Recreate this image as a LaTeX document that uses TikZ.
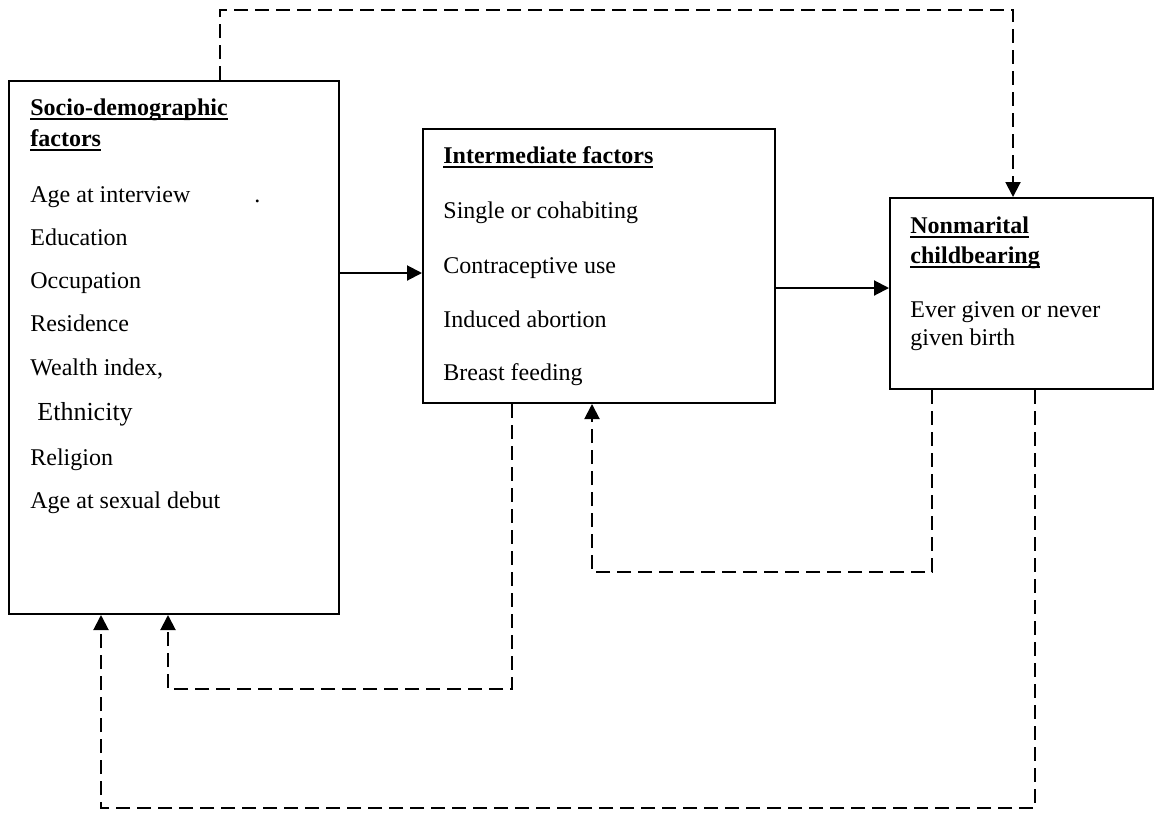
\documentclass[tikz,border=0pt]{standalone}
\usepackage{fontspec}
\setmainfont{Liberation Serif}
\usetikzlibrary{arrows.meta}
\newcommand{\ulhead}[1]{\setbox0\hbox{\bfseries #1}\rlap{\rule[-2.6pt]{\wd0}{1.1pt}}\box0}

\begin{document}
\begin{tikzpicture}[
  x=0.5pt, y=-0.5pt,
  box/.style={rectangle, draw, line width=1pt, inner sep=0pt, anchor=north west},
  item/.style={anchor=base west, inner sep=0pt, font=\fontsize{12pt}{14pt}\selectfont},
  arrow/.style={-{Triangle[length=7.5pt,width=7.5pt]}, line width=1pt},
  dasharrow/.style={arrow, dash pattern=on 7pt off 3.5pt},
]
  \useasboundingbox (0,0) rectangle (1154,814);
  % boxes
  \node[box, minimum width=165pt, minimum height=266.5pt] (socio) at (8,80) {};
  \node[box, minimum width=176pt, minimum height=137pt] (inter) at (422,128) {};
  \node[box, minimum width=131.5pt, minimum height=95.5pt] (nonmar) at (889,197) {};
  % socio-demographic texts
  \node[item] (socT1) at (30,115) {\ulhead{Socio-demographic}};
  \node[item] (socT2) at (30,146) {\ulhead{factors}};
  \node[item] (soc1) at (30,202) {Age at interview};
  \node[item] (socdot) at (254,202) {.};
  \node[item] (soc2) at (30,245) {Education};
  \node[item] (soc3) at (30,288) {Occupation};
  \node[item] (soc4) at (30,331) {Residence};
  \node[item] (soc5) at (30,375) {Wealth index,};
  \node[item, font=\fontsize{13pt}{15pt}\selectfont] (soc6) at (37,420) {Ethnicity};
  \node[item] (soc7) at (30,465) {Religion};
  \node[item] (soc8) at (30,508) {Age at sexual debut};
  % intermediate texts
  \node[item] (intT) at (443,163) {\ulhead{Intermediate factors}};
  \node[item] (int1) at (443,218) {Single or cohabiting};
  \node[item] (int2) at (443,273) {Contraceptive use};
  \node[item] (int3) at (443,327) {Induced abortion};
  \node[item] (int4) at (443,380) {Breast feeding};
  % outcome texts
  \node[item] (nonT1) at (910,233) {\ulhead{Nonmarital}};
  \node[item] (nonT2) at (910,263) {\ulhead{childbearing}};
  \node[item] (non1) at (910,317) {Ever given or never};
  \node[item] (non2) at (910,345) {given birth};
  % direct paths
  \draw[arrow] (socio.east |- 0,273) -- (inter.west |- 0,273);
  \draw[arrow] (inter.east |- 0,288) -- (nonmar.west |- 0,288);
  % feedback paths
  \draw[dasharrow] (220,0 |- socio.north) |- (1013,10) -- (1013,0 |- nonmar.north);
  \draw[dasharrow] (512,0 |- inter.south) |- (168,689) -- (168,0 |- socio.south);
  \draw[dasharrow] (932,0 |- nonmar.south) |- (592,572) -- (592,0 |- inter.south);
  \draw[dasharrow] (1035,0 |- nonmar.south) |- (101,808) -- (101,0 |- socio.south);
\end{tikzpicture}
\end{document}
